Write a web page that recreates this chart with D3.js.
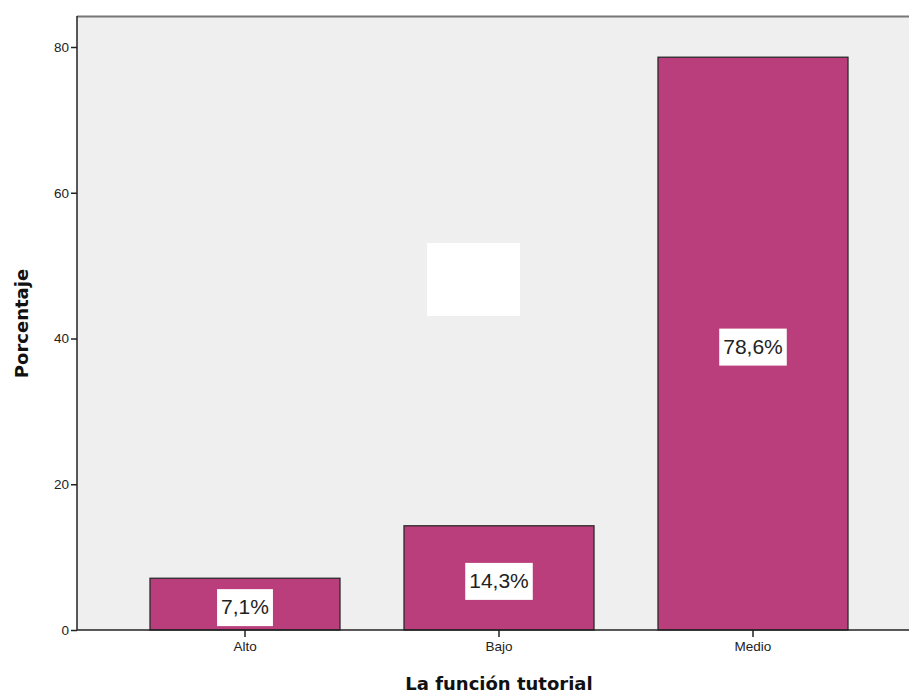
<!DOCTYPE html>
<html><head><meta charset="utf-8">
<script src="https://cdn.jsdelivr.net/npm/d3@7"></script>
<style>body{margin:0;background:#fff}svg{display:block}</style>
</head><body>
<script>
const categories = ["Alto", "Bajo", "Medio"];
const values = [7.1, 14.3, 78.6];
const labels = ["7,1%", "14,3%", "78,6%"];
const yTicks = [0, 20, 40, 60, 80];

const W = 909, H = 696;
const svg = d3.select("body").append("svg").attr("width", W).attr("height", H);
const plot = {left: 77, top: 16, right: 909, bottom: 630};

const y = d3.scaleLinear().domain([0, 80]).range([630, 47]);
const x = d3.scaleBand().domain(categories).range([118, 880]).paddingInner(0.252).paddingOuter(0.126);

svg.append("rect").attr("x", plot.left).attr("y", plot.top)
  .attr("width", plot.right - plot.left).attr("height", plot.bottom - plot.top)
  .attr("fill", "#efefef");
svg.append("line").attr("x1", plot.left).attr("x2", plot.right).attr("y1", plot.top + 0.5).attr("y2", plot.top + 0.5)
  .attr("stroke", "#777").attr("stroke-width", 2);

// blank white box in plot
svg.append("rect").attr("x", 427).attr("y", 243).attr("width", 93).attr("height", 73).attr("fill", "#fff");

svg.selectAll("rect.bar").data(values).enter().append("rect").attr("class", "bar")
  .attr("x", (d, i) => x(categories[i]))
  .attr("y", d => y(d))
  .attr("width", x.bandwidth())
  .attr("height", d => y(0) - y(d))
  .attr("fill", "#bb3e7c").attr("stroke", "#2a2a2a").attr("stroke-width", 1.3);

const yAxis = d3.axisLeft(y).tickValues(yTicks).tickSize(6).tickPadding(2);
const gy = svg.append("g").attr("transform", `translate(${plot.left},0)`).call(yAxis);
gy.select(".domain").attr("d", `M0,${plot.top}V${plot.bottom}`).attr("stroke", "#222").attr("stroke-width", 1.5);
gy.selectAll(".tick line").attr("stroke", "#222").attr("stroke-width", 1.5);
gy.selectAll(".tick text").attr("font-family", "Arial, 'Liberation Sans', sans-serif").attr("font-size", 13.5).attr("fill", "#222");

const xAxis = d3.axisBottom(x).tickSize(7).tickPadding(4);
const gx = svg.append("g").attr("transform", `translate(0,${plot.bottom})`).call(xAxis);
gx.select(".domain").attr("d", `M${plot.left},0H${plot.right}`).attr("stroke", "#222").attr("stroke-width", 1.5);
gx.selectAll(".tick line").attr("stroke", "#222").attr("stroke-width", 1.5);
gx.selectAll(".tick text").attr("font-family", "Arial, 'Liberation Sans', sans-serif").attr("font-size", 13.5).attr("fill", "#222");

// value labels
const lg = svg.selectAll("g.lab").data(values).enter().append("g").attr("class", "lab")
  .attr("transform", (d, i) => `translate(${x(categories[i]) + x.bandwidth() / 2},${y(d / 2) + 3})`);
lg.append("text").attr("text-anchor", "middle").attr("dy", "0.35em")
  .attr("font-family", "Arial, 'Liberation Sans', sans-serif").attr("font-size", 21).attr("fill", "#222")
  .text((d, i) => labels[i]);
lg.each(function() {
  const t = d3.select(this).select("text");
  const b = t.node().getBBox();
  d3.select(this).insert("rect", "text").attr("x", b.x - 4).attr("y", -18).attr("width", b.width + 8).attr("height", 37).attr("fill", "#fff");
});

svg.append("text").attr("x", x("Bajo") + x.bandwidth() / 2).attr("y", 690).attr("text-anchor", "middle")
  .attr("font-family", "'DejaVu Sans', Verdana, sans-serif").attr("font-weight", "bold").attr("font-size", 18).attr("fill", "#111")
  .text("La función tutorial");
svg.append("text").attr("transform", `translate(28,${y(40) - 15}) rotate(-90)`).attr("text-anchor", "middle")
  .attr("font-family", "'DejaVu Sans', Verdana, sans-serif").attr("font-weight", "bold").attr("font-size", 18).attr("fill", "#111")
  .text("Porcentaje");
</script>
</body></html>
